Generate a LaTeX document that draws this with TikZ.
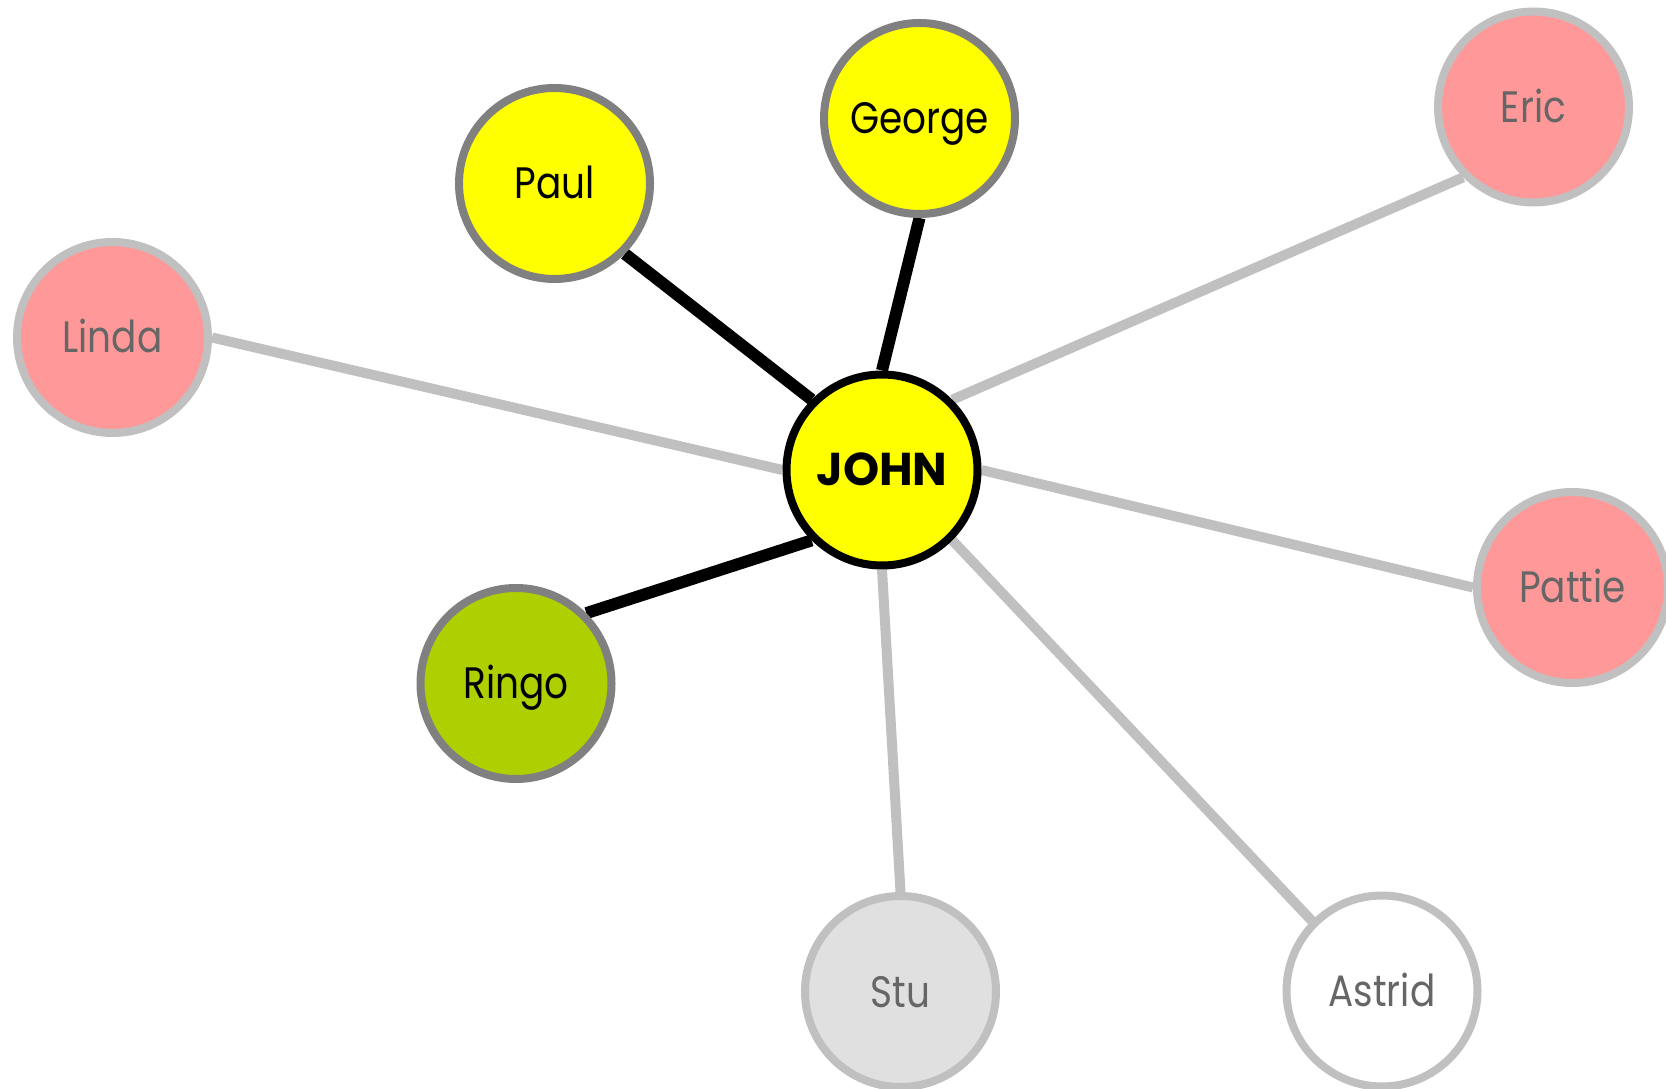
\documentclass[tikz,border=0pt]{standalone}
\usepackage{fontspec}
\setmainfont{Poppins}
\usetikzlibrary{backgrounds}
\definecolor{ylw}{HTML}{FFFF00}
\definecolor{lime}{HTML}{AECF00}
\definecolor{pinkf}{HTML}{FF9999}
\definecolor{stuf}{HTML}{E0E0E0}
\definecolor{lightb}{HTML}{C0C0C0}
\definecolor{darkb}{HTML}{808080}
\definecolor{txtg}{HTML}{666666}
\newcommand{\nm}[1]{\scalebox{0.85}[1]{#1}}
\tikzset{
  person/.style={circle, inner sep=0pt, minimum size=191pt, line width=8pt, text height=31pt, text depth=0pt, font=\fontsize{44}{44}\selectfont},
  inner/.style={person, draw=darkb, fill=ylw, text=black},
  ringo/.style={person, draw=darkb, fill=lime, text=black},
  outer/.style={person, draw=lightb, fill=pinkf, text=txtg},
  stu/.style={person, draw=lightb, fill=stuf, text=txtg},
  astrid/.style={person, draw=lightb, fill=white, text=txtg},
  center/.style={person, draw=black, fill=ylw, text=black, text height=32pt, font=\fontsize{46}{46}\selectfont\bfseries},
  strong/.style={line width=12pt, draw=black},
  weak/.style={line width=10pt, draw=lightb},
}
\begin{document}
\begin{tikzpicture}[x=1pt,y=1pt]
\useasboundingbox (0,0) rectangle (1666,1088);
\node[center] (john) at (882,618) {JOHN};
\node[inner] (paul) at (554.5,904.5) {\nm{Paul}};
\node[inner] (george) at (919.5,969.5) {\nm{George}};
\node[outer] (eric) at (1533.5,981) {\nm{Eric}};
\node[outer] (linda) at (112.5,750.5) {\nm{Linda}};
\node[outer] (pattie) at (1572.5,500.5) {\nm{Pattie}};
\node[ringo] (ringo) at (516,404.5) {\nm{Ringo}};
\node[stu] (stu) at (900.5,96.5) {\nm{Stu}};
\node[astrid] (astrid) at (1382,97) {\nm{Astrid}};
\begin{pgfonlayer}{background}
\draw[strong] (paul.south east) -- (john.north west);
\draw[strong] (george.south) -- (john.north);
\draw[strong] (ringo.north east) -- (john.south west);
\draw[weak] (linda.east) -- (john.west);
\draw[weak] (eric.south west) -- (john.north east);
\draw[weak] (pattie.west) -- (john.east);
\draw[weak] (stu.north) -- (john.south);
\draw[weak] (astrid.north west) -- (john.south east);
\end{pgfonlayer}
\end{tikzpicture}
\end{document}
